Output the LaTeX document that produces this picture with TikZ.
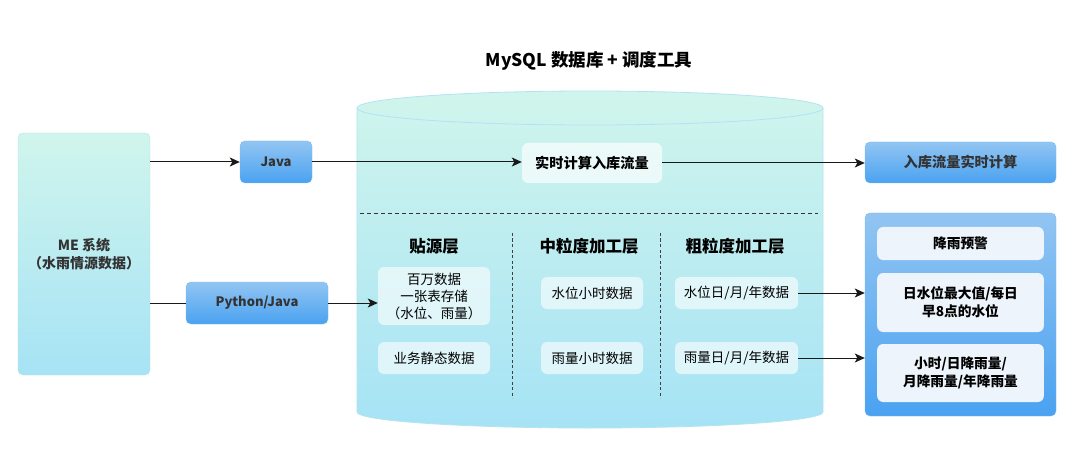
\documentclass[tikz,border=0pt]{standalone}
\usepackage{fontspec}
\setmainfont{Noto Sans CJK SC}
\usetikzlibrary{arrows.meta}
\definecolor{mintT}{HTML}{D0F5EC}
\definecolor{cyanB}{HTML}{A6E3F5}
\definecolor{blueT}{HTML}{92C5F2}
\definecolor{blueB}{HTML}{4AA2F1}
\definecolor{blueEdge}{HTML}{7DB9EE}
\definecolor{cylEdge}{HTML}{B3E3F2}
\definecolor{txtgray}{HTML}{333333}
\definecolor{innerR}{HTML}{EDF4FC}
\tikzset{
  srcbox/.style={rounded corners=5pt, draw=cylEdge, top color=mintT, bottom color=cyanB, text=txtgray, align=center},
  bluebox/.style={rounded corners=5pt, draw=blueEdge, top color=blueT, bottom color=blueB, text=txtgray, align=center, font=\bfseries\fontsize{13}{16}\selectfont},
  cylbox/.style={rounded corners=6pt, fill=white, fill opacity=0.6, text opacity=1, align=center, font=\fontsize{13.5}{17}\selectfont},
  rinner/.style={rounded corners=6pt, fill=innerR, align=center, text width=160pt, font=\bfseries\fontsize{13.7}{18}\selectfont},
  arr/.style={-{Stealth[length=10pt,width=9pt,inset=2.5pt]}, line width=1pt, draw=black!90},
  plain/.style={line width=1pt, draw=black!90},
  hdr/.style={font=\bfseries\fontsize{16.5}{19}\selectfont},
}
\begin{document}
\begin{tikzpicture}[x=1pt,y=1pt]
\useasboundingbox (0,0) rectangle (1080,-468);
% cylinder
\path[top color=mintT, bottom color=cyanB, draw=cylEdge, line width=0.8pt]
  (357,-108) -- (357,-412) arc[start angle=180,end angle=360,x radius=233,y radius=16]
  -- (823,-108) arc[start angle=0,end angle=180,x radius=233,y radius=17] -- cycle;
\draw[cylEdge, line width=0.8pt] (357,-108) arc[start angle=180,end angle=360,x radius=233,y radius=17];
% title
\node[font=\bfseries\fontsize{17.5}{20}\selectfont] (title) at (589,-61) {MySQL 数据库 + 调度工具};
% left
\node[srcbox, minimum width=132pt, minimum height=242pt, font=\bfseries\fontsize{14}{18}\selectfont] (me) at (84,-254) {ME 系统\\（水雨情源数据）};
\node[bluebox, minimum width=72pt, minimum height=42pt] (java) at (276,-162) {Java};
\node[bluebox, minimum width=142pt, minimum height=42pt] (py) at (257,-303) {Python/Java};
% realtime
\node[cylbox, fill opacity=0.65, minimum width=140pt, minimum height=40pt, font=\bfseries\fontsize{14.2}{17}\selectfont] (rt) at (592,-163) {实时计算入库流量};
\draw[black!80, line width=0.9pt, dashed, dash pattern=on 4pt off 3pt] (360,-213) -- (818,-213);
% headers
\node[hdr] (h1) at (434,-246) {贴源层};
\node[hdr] (h2) at (589,-246) {中粒度加工层};
\node[hdr] (h3) at (735,-246) {粗粒度加工层};
\draw[black!75, line width=1pt, dash pattern=on 3pt off 2.5pt] (512,-233) -- (512,-398);
\draw[black!75, line width=1pt, dash pattern=on 3pt off 2.5pt] (660,-233) -- (660,-398);
% inner boxes
\node[cylbox, minimum width=112pt, minimum height=58pt] (bw) at (434,-296) {百万数据\\一张表存储\\（水位、雨量）};
\node[cylbox, minimum width=112pt, minimum height=32pt] (yw) at (434,-358) {业务静态数据};
\node[cylbox, minimum width=102pt, minimum height=32pt] (sh) at (592,-293) {水位小时数据};
\node[cylbox, minimum width=102pt, minimum height=32pt] (yh) at (592,-358) {雨量小时数据};
\node[cylbox, minimum width=123pt, minimum height=32pt] (sd) at (736.5,-293) {水位日/月/年数据};
\node[cylbox, minimum width=123pt, minimum height=32pt] (yd) at (736.5,-358) {雨量日/月/年数据};
% right
\node[bluebox, minimum width=191pt, minimum height=41pt, font=\bfseries\fontsize{14.2}{17}\selectfont] (out1) at (960.5,-162.5) {入库流量实时计算};
\node[bluebox, minimum width=191pt, minimum height=203pt] (rb) at (960.5,-314.5) {};
\node[rinner, minimum height=33pt] (r1) at (960.5,-243.5) {降雨预警};
\node[rinner, minimum height=59pt] (r2) at (960.5,-302.5) {日水位最大值/每日\\早8点的水位};
\node[rinner, minimum height=58pt] (r3) at (960.5,-373) {小时/日降雨量/\\月降雨量/年降雨量};
% connectors
\draw[arr] (me.east |- java.west) -- (java.west);
\draw[plain] (me.east |- py.west) -- (py.west);
\draw[arr] (py.east) -- (py.east -| bw.west);
\draw[arr] (java.east) -- (java.east -| rt.west);
\draw[arr] (rt.east) -- (rt.east -| out1.west);
\draw[arr] (sd.east) -- (sd.east -| rb.west);
\draw[arr] (yd.east) -- (yd.east -| rb.west);
\end{tikzpicture}
\end{document}
